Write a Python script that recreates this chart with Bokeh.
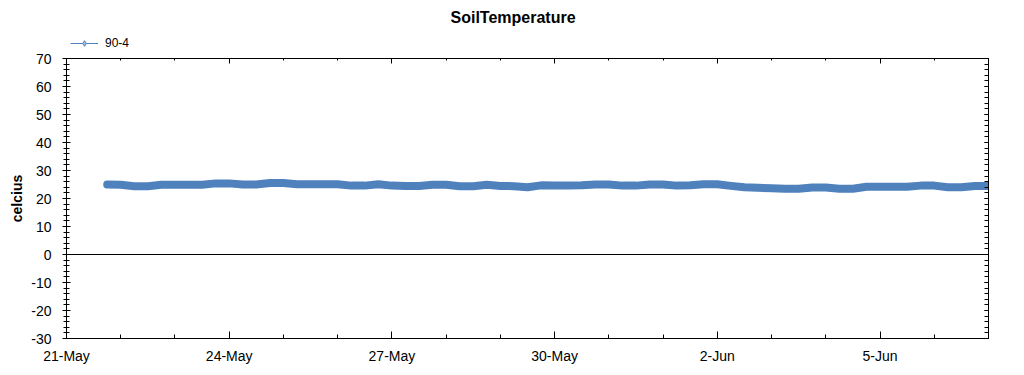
import pandas as pd
from bokeh.plotting import figure
from bokeh.layouts import column
from bokeh.models import (FixedTicker, LinearAxis, DatetimeAxis, Span, Legend,
                          LegendItem, ColumnDataSource, Range1d)
from bokeh.embed import file_html
from bokeh.resources import INLINE

# ---------------- data ----------------
chart_title = "SoilTemperature"
y_label = "celcius"
series_name = "90-4"
first_sample = "2021-05-21 18:00"
sample_step = "6h"
temps = [25.0, 24.9, 24.4, 24.4, 24.9, 24.9, 24.9, 24.9, 25.4, 25.4,
         25.0, 25.0, 25.5, 25.5, 25.1, 25.1, 25.1, 25.1, 24.6, 24.6,
         25.1, 24.6, 24.5, 24.5, 24.9, 24.9, 24.4, 24.4, 24.9, 24.5,
         24.4, 24.0, 24.7, 24.6, 24.6, 24.7, 25.0, 25.0, 24.6, 24.6,
         25.0, 25.0, 24.6, 24.7, 25.1, 25.1, 24.5, 24.0, 23.8, 23.7,
         23.5, 23.5, 23.9, 23.9, 23.5, 23.5, 24.2, 24.2, 24.2, 24.2,
         24.6, 24.6, 24.0, 24.0, 24.5, 24.5]
x_start = "2021-05-21"
x_end = "2021-06-07"
tick_dates = ["2021-05-21", "2021-05-24", "2021-05-27", "2021-05-30", "2021-06-02", "2021-06-05"]
tick_labels = ["21-May", "24-May", "27-May", "30-May", "2-Jun", "5-Jun"]
y_ticks = [-30, -20, -10, 0, 10, 20, 30, 40, 50, 60, 70]
y_tick_labels = ["-30", "-20", "-10", "0", "10", "20", "30", "40", "50", "60", "70"]
y_minor = list(range(-30, 71, 2))

# ---------------- helpers ----------------
def ms(t):
    return int(pd.Timestamp(t).value // 10**6)

times = pd.date_range(first_sample, periods=len(temps), freq=sample_step)
src = ColumnDataSource(dict(t=times, v=temps))

major_ms = [ms(d) for d in tick_dates]
minor_ms = [ms(d) for d in pd.date_range(x_start, x_end, freq="D")]
xticker = FixedTicker(ticks=major_ms, minor_ticks=minor_ms)
yticker = FixedTicker(ticks=y_ticks, minor_ticks=y_minor)

FONT = "Liberation Sans"
BLUE = "#4F81BD"
NAN = float("nan")

# ---------------- header: title + legend ----------------
head = figure(width=1024, height=50, x_range=Range1d(0, 1), y_range=Range1d(0, 1),
              x_axis_location=None, y_axis_location=None,
              output_backend="svg", toolbar_location=None, min_border=0,
              background_fill_color="white", border_fill_color="white")
head.grid.visible = False
head.outline_line_color = None
head.title.text = chart_title
head.title.align = "left"
head.title.offset = 384
head.title.standoff = 12
head.title.text_font = FONT
head.title.text_font_size = "16px"
head.title.text_font_style = "bold"
head.title.text_color = "#000000"

# legend sample glyphs (no visible data of their own)
leg_src = ColumnDataSource(dict(x=[NAN], y=[NAN]))
leg_line = head.line(x="x", y="y", source=leg_src, line_color=BLUE, line_width=1)
leg_mark = head.scatter(x="x", y="y", source=leg_src, marker="diamond", size=9,
                        fill_color="#A9BED8", line_color=BLUE)
legend = Legend(items=[LegendItem(label=series_name, renderers=[leg_line, leg_mark])],
                location=(4, 0), orientation="horizontal",
                glyph_width=28, glyph_height=14, label_height=14, label_standoff=7,
                padding=0, margin=0, spacing=0, border_line_color=None,
                background_fill_alpha=0, label_text_font=FONT,
                label_text_font_size="12px", label_text_color="black")
head.add_layout(legend)

# ---------------- main chart ----------------
p = figure(width=1024, height=325, x_axis_type="datetime",
           x_range=Range1d(ms(x_start), ms(x_end)), y_range=Range1d(-30, 70),
           output_backend="svg", toolbar_location=None,
           min_border_left=66, min_border_right=36, min_border_top=8, min_border_bottom=37,
           background_fill_color="white", border_fill_color="white")
p.xgrid.visible = False
p.ygrid.visible = False
p.outline_line_color = "black"

# bottom axis
xa = p.xaxis[0]
xa.ticker = xticker
xa.major_label_overrides = {m: l for m, l in zip(major_ms, tick_labels)}
xa.major_tick_in = 7
xa.major_tick_out = 0
xa.minor_tick_in = 4
xa.minor_tick_out = 0
xa.major_label_standoff = 9
xa.major_label_text_font = FONT
xa.major_label_text_font_size = "14px"
xa.major_label_text_color = "black"
xa.axis_line_color = "black"

# left axis
ya = p.yaxis[0]
ya.ticker = yticker
ya.major_label_overrides = {v: l for v, l in zip(y_ticks, y_tick_labels)}
ya.major_tick_in = 4
ya.major_tick_out = 4
ya.minor_tick_in = 3
ya.minor_tick_out = 3
ya.major_label_standoff = 11
ya.major_label_text_font = FONT
ya.major_label_text_font_size = "14px"
ya.major_label_text_color = "black"
ya.axis_label = y_label
ya.axis_label_text_font = FONT
ya.axis_label_text_font_size = "14px"
ya.axis_label_text_font_style = "bold"
ya.axis_label_text_color = "black"
ya.axis_label_standoff = 3

# right and top axes (ticks only, empty labels)
ra = LinearAxis(ticker=yticker, major_tick_in=4, major_tick_out=0,
                minor_tick_in=4, minor_tick_out=0, major_label_standoff=0,
                major_label_overrides={v: "" for v in y_ticks},
                axis_line_color="black")
p.add_layout(ra, "right")
ta = DatetimeAxis(ticker=xticker, major_tick_in=5, major_tick_out=0,
                  minor_tick_in=2, minor_tick_out=0, major_label_standoff=0,
                  major_label_overrides={m: "" for m in major_ms},
                  axis_line_color="black")
p.add_layout(ta, "above")

# zero line
p.add_layout(Span(location=0, dimension="width", line_color="black", line_width=1))

# data
p.line(x="t", y="v", source=src, line_width=8, line_color=BLUE,
       line_join="round", line_cap="round")

layout = column(head, p, spacing=0)
open("out.html", "w").write(file_html(layout, INLINE))
